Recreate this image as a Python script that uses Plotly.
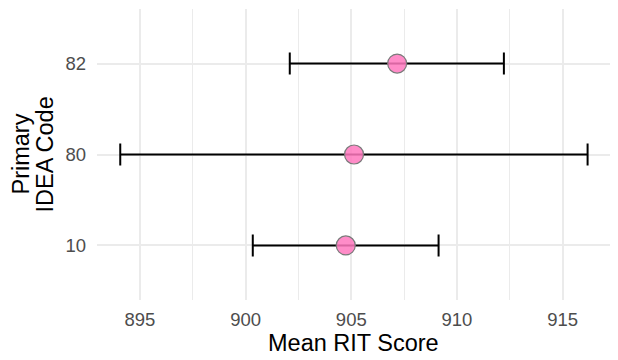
import plotly.graph_objects as go

codes = ["10", "80", "82"]
mean_rit = [904.74, 905.13, 907.17]
lower = [900.34, 894.07, 902.09]
upper = [909.13, 916.18, 912.22]

err_plus = [u - m for u, m in zip(upper, mean_rit)]
err_minus = [m - l for m, l in zip(mean_rit, lower)]

fig = go.Figure()
fig.add_trace(go.Scatter(
    x=mean_rit, y=codes, mode="markers",
    marker=dict(size=19, color="rgba(255,120,190,0.85)",
                line=dict(color="#7a7a7a", width=1.2)),
    error_x=dict(type="data", symmetric=False, array=err_plus, arrayminus=err_minus,
                 color="black", thickness=2, width=11),
    showlegend=False,
))

# the page body has an 8px default margin, so the figure is sized 610x352
font_family = "Liberation Sans, Arial, sans-serif"
fig.update_layout(
    width=610, height=352,
    margin=dict(l=89, r=8, t=1, b=60, autoexpand=False),
    paper_bgcolor="white", plot_bgcolor="white",
    font=dict(family=font_family),
    xaxis=dict(
        range=[892.97, 917.24], tick0=895, dtick=5,
        showgrid=True, gridcolor="#EBEBEB", gridwidth=1.8,
        minor=dict(dtick=2.5, tick0=895, showgrid=True, gridcolor="#EBEBEB", gridwidth=1.0),
        zeroline=False, showline=False, ticks="", automargin=False,
        tickfont=dict(size=18.5, color="#4D4D4D"), ticklabelstandoff=6,
    ),
    yaxis=dict(
        type="category", categoryorder="array", categoryarray=codes,
        range=[-0.6, 2.6],
        showgrid=True, gridcolor="#EBEBEB", gridwidth=1.8,
        zeroline=False, showline=False, ticks="", automargin=False,
        tickfont=dict(size=18.5, color="#4D4D4D"), ticklabelstandoff=10,
    ),
    annotations=[
        dict(text="Mean RIT Score", xref="paper", yref="paper", x=0.5, y=0,
             xanchor="center", yanchor="middle", yshift=-43, showarrow=False,
             font=dict(size=23.5, color="black")),
        dict(text="Primary", xref="paper", yref="paper", x=0, y=0.5,
             xanchor="center", yanchor="middle", xshift=-77, textangle=-90,
             showarrow=False, font=dict(size=23.5, color="black")),
        dict(text="IDEA Code", xref="paper", yref="paper", x=0, y=0.5,
             xanchor="center", yanchor="middle", xshift=-53, textangle=-90,
             showarrow=False, font=dict(size=23.5, color="black")),
    ],
)

fig.write_html("out.html")
